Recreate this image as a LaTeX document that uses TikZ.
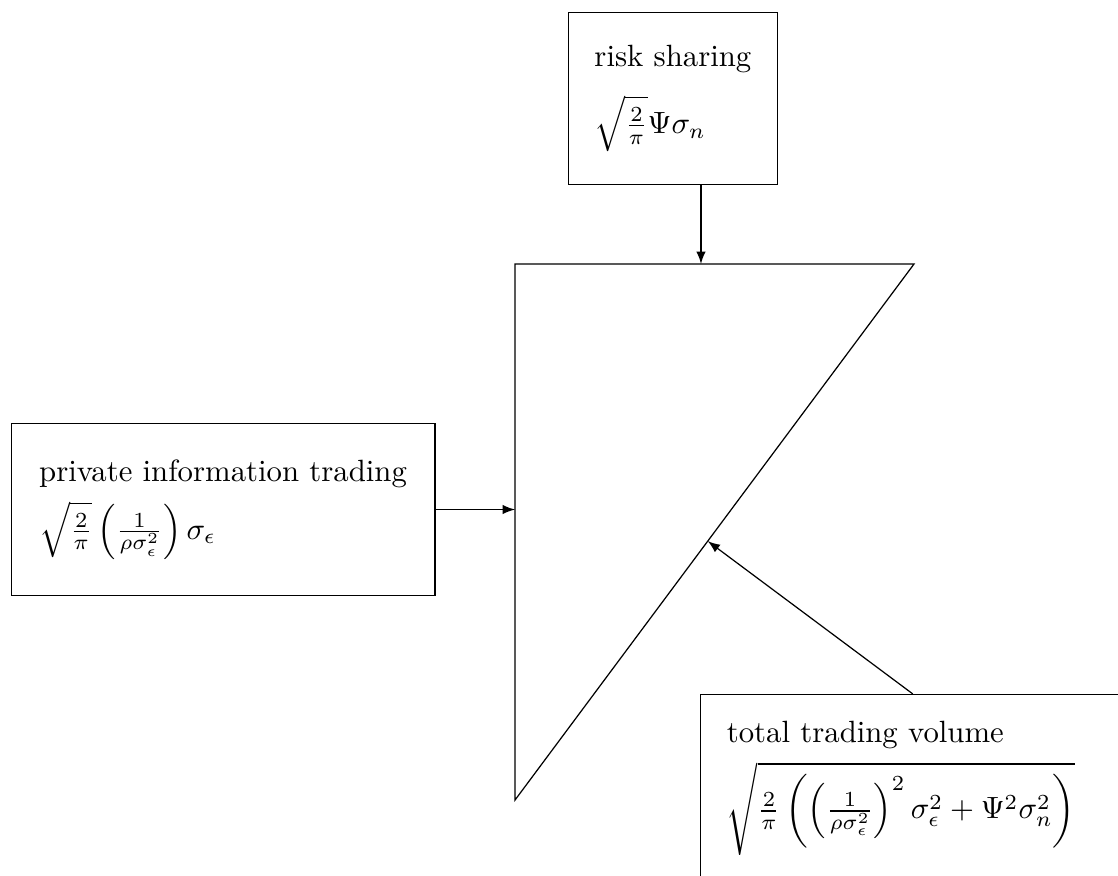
\documentclass[tikz,border=0pt]{standalone}
\usepackage{amssymb}
\usepackage{mathtools}
\usetikzlibrary{arrows,calc,positioning}
\tikzset{blk/.style={draw=black, align=left, inner sep=0.3cm}}

\begin{document}
\begin{tikzpicture}
    \useasboundingbox (0,0) rectangle (12.777,10);
    \clip (0,0) rectangle (12.777,10);
    % the triangle
    \coordinate (tl) at (5.886,6.983);
    \coordinate (tr) at (10.446,6.983);
    \coordinate (bt) at (5.886,0.857);
    \draw (tl) -- (tr) -- (bt) -- cycle;
    % the three boxes
    \node[blk, inner ysep=0.37cm] (risk) at (7.69,8.874) {risk sharing\\[1.5ex] $\sqrt{\frac{2}{\pi}}\Psi\sigma_n$};
    \node[blk, inner xsep=0.32cm, inner ysep=0.41cm] (priv) at (2.549,4.177) {private information trading\\[0.8ex] $\sqrt{\frac{2}{\pi}}\left(\frac{1}{\rho\sigma_\epsilon^2}\right)\sigma_\epsilon$};
    \node[blk, text width=4.25cm, anchor=north west] (tot) at (8.0,2.069) {total trading volume\\[0.8ex] $\sqrt{\frac{2}{\pi}\left(\left(\frac{1}{\rho\sigma_\epsilon^2}\right)^2\sigma_\epsilon^2+\Psi^2\sigma_n^2\right)}$};
    % arrows into the triangle
    \coordinate (rin) at (8.011,6.983);
    \coordinate (hin) at ($(bt)!0.483!(tr)$);
    \draw[-latex] (risk.south -| rin) -- (rin);
    \draw[-latex] (priv.east) -- (priv.east -| tl);
    \draw[-latex] (tot.north) -- (hin);
\end{tikzpicture}
\end{document}
